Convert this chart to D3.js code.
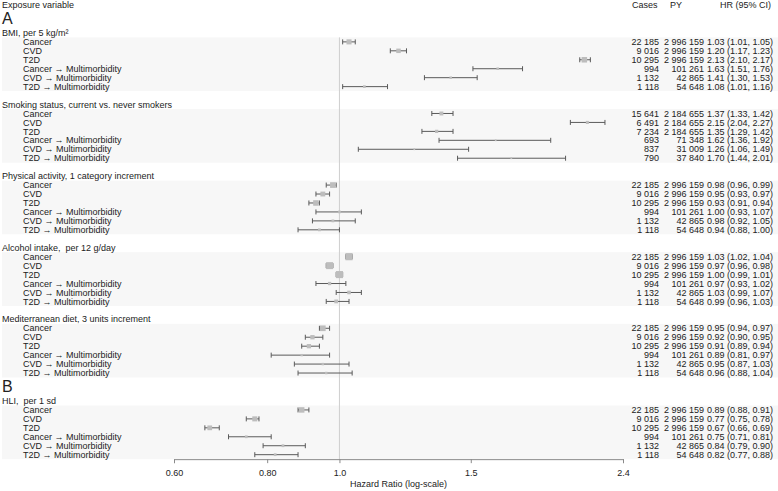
<!DOCTYPE html>
<html><head><meta charset="utf-8">
<script src="https://cdn.jsdelivr.net/npm/d3@7"></script>
<style>
body{margin:0;background:#fff}
text{font-family:"Liberation Sans",Arial,Helvetica,sans-serif;white-space:pre}
</style>
</head><body><svg id="c" width="778" height="491"></svg>
<script>
// ---------- data ----------
const outcomes = ["Cancer","CVD","T2D","Cancer \u2192 Multimorbidity","CVD \u2192 Multimorbidity","T2D \u2192 Multimorbidity"];
const exposures = ["BMI, per 5 kg/m\u00B2","Smoking status, current vs. never smokers","Physical activity, 1 category increment","Alcohol intake,  per 12 g/day","Mediterranean diet, 3 units increment","HLI,  per 1 sd"];
const panels = ["A","A","A","A","A","B"];
const cases = [
  ["22 185","9 016","10 295","994","1 132","1 118"],
  ["15 641","6 491","7 234","693","837","790"],
  ["22 185","9 016","10 295","994","1 132","1 118"],
  ["22 185","9 016","10 295","994","1 132","1 118"],
  ["22 185","9 016","10 295","994","1 132","1 118"],
  ["22 185","9 016","10 295","994","1 132","1 118"]
];
const personYears = [
  ["2 996 159","2 996 159","2 996 159","101 261","42 865","54 648"],
  ["2 184 655","2 184 655","2 184 655","71 348","31 009","37 840"],
  ["2 996 159","2 996 159","2 996 159","101 261","42 865","54 648"],
  ["2 996 159","2 996 159","2 996 159","101 261","42 865","54 648"],
  ["2 996 159","2 996 159","2 996 159","101 261","42 865","54 648"],
  ["2 996 159","2 996 159","2 996 159","101 261","42 865","54 648"]
];
const hr = [
  [1.03,1.20,2.13,1.63,1.41,1.08],
  [1.37,2.15,1.35,1.62,1.26,1.70],
  [0.98,0.95,0.93,1.00,0.98,0.94],
  [1.03,0.97,1.00,0.97,1.03,0.99],
  [0.95,0.92,0.91,0.89,0.95,0.96],
  [0.89,0.77,0.67,0.75,0.84,0.82]
];
const lower = [
  [1.01,1.17,2.10,1.51,1.30,1.01],
  [1.33,2.04,1.29,1.36,1.06,1.44],
  [0.96,0.93,0.91,0.93,0.92,0.88],
  [1.02,0.96,0.99,0.93,0.99,0.96],
  [0.94,0.90,0.89,0.81,0.87,0.88],
  [0.88,0.75,0.66,0.71,0.79,0.77]
];
const upper = [
  [1.05,1.23,2.17,1.76,1.53,1.16],
  [1.42,2.27,1.42,1.92,1.49,2.01],
  [0.99,0.97,0.94,1.07,1.05,1.00],
  [1.04,0.98,1.01,1.02,1.07,1.03],
  [0.97,0.95,0.94,0.97,1.03,1.04],
  [0.91,0.78,0.69,0.81,0.90,0.88]
];
const xTicks = [0.6,0.8,1.0,1.5,2.4];
const xTickLabels = ["0.60","0.80","1.0","1.5","2.4"];
const columnHeaders = ["Exposure variable","Cases","PY","HR (95% CI)"];
const axisTitle = "Hazard Ratio (log-scale)";

// ---------- layout ----------
const W = 778, H = 491, ROW = 8.95, LETTER_H = 19;
const textColor = "#222";
const fs = 9;
const svg = d3.select("#c");
const x = d3.scaleLog().domain([0.6, 2.4]).range([174, 623]);

let y = 0.5;
const headerY = y + ROW/2; y += ROW;
const letters = [], groupHeads = [], rows = [], bands = [];
let prevPanel = null;
exposures.forEach((ex, g) => {
  if (panels[g] !== prevPanel) {
    letters.push({t: panels[g], y: y + LETTER_H - 4.15});
    y += LETTER_H;
    prevPanel = panels[g];
  } else {
    y += ROW; // blank gap row
  }
  groupHeads.push({t: ex, y: y + ROW/2}); y += ROW;
  const b0 = y;
  outcomes.forEach((o, k) => {
    rows.push({g, k, label: o, y: y + ROW/2,
      cases: cases[g][k], py: personYears[g][k],
      hr: hr[g][k], lo: lower[g][k], hi: upper[g][k]});
    y += ROW;
  });
  bands.push({y0: b0, y1: y});
});
const tableBottom = y;
const firstRowTop = bands[0].y0;

// bands
svg.append("g").selectAll("rect").data(bands).join("rect")
  .attr("x", 2).attr("width", W - 2)
  .attr("y", d => d.y0).attr("height", d => d.y1 - d.y0)
  .attr("fill", "#f7f7f7");

// reference line
svg.append("line")
  .attr("x1", x(1)).attr("x2", x(1))
  .attr("y1", firstRowTop).attr("y2", tableBottom)
  .attr("stroke", "#cfcfcf").attr("stroke-width", 1);

// column headers
const colHead = svg.append("g").attr("font-size", fs).attr("fill", textColor);
colHead.append("text").attr("x", 2).attr("y", headerY).attr("dy", "0.35em").text(columnHeaders[0]);
colHead.append("text").attr("x", 632).attr("y", headerY).attr("dy", "0.35em").text(columnHeaders[1]);
colHead.append("text").attr("x", 670).attr("y", headerY).attr("dy", "0.35em").text(columnHeaders[2]);
colHead.append("text").attr("x", 720).attr("y", headerY).attr("dy", "0.35em").text(columnHeaders[3]);

// panel letters
svg.append("g").selectAll("text").data(letters).join("text")
  .attr("x", 2).attr("y", d => d.y).attr("font-size", 16).attr("fill", textColor)
  .text(d => d.t);

// group headers
svg.append("g").selectAll("text").data(groupHeads).join("text")
  .attr("x", 2).attr("y", d => d.y).attr("dy", "0.35em")
  .attr("font-size", fs).attr("fill", textColor).text(d => d.t);

// row labels and columns
const rg = svg.append("g").attr("font-size", fs).attr("fill", textColor);
rg.selectAll("text.lab").data(rows).join("text").attr("class","lab")
  .attr("x", 23).attr("y", d => d.y).attr("dy", "0.35em").text(d => d.label);
rg.selectAll("text.cases").data(rows).join("text").attr("class","cases")
  .attr("x", 659).attr("y", d => d.y).attr("dy", "0.35em").attr("text-anchor","end").text(d => d.cases);
rg.selectAll("text.py").data(rows).join("text").attr("class","py")
  .attr("x", 704).attr("y", d => d.y).attr("dy", "0.35em").attr("text-anchor","end").text(d => d.py);
rg.selectAll("text.hr").data(rows).join("text").attr("class","hr")
  .attr("x", 707).attr("y", d => d.y).attr("dy", "0.35em")
  .text(d => `${d.hr.toFixed(2)} (${d.lo.toFixed(2)}, ${d.hi.toFixed(2)})`);

// CI marks
const ci = svg.append("g");
const lineCol = "#5a5a5a";
const size = d3.scaleSqrt().domain([0, 1]).range([0, 1]);
ci.selectAll("line.ci").data(rows).join("line").attr("class","ci")
  .attr("x1", d => x(d.lo)).attr("x2", d => x(d.hi))
  .attr("y1", d => d.y).attr("y2", d => d.y)
  .attr("stroke", lineCol).attr("stroke-width", 1);
ci.selectAll("line.capL").data(rows).join("line").attr("class","capL")
  .attr("x1", d => x(d.lo)).attr("x2", d => x(d.lo))
  .attr("y1", d => d.y - 2.5).attr("y2", d => d.y + 2.5)
  .attr("stroke", lineCol).attr("stroke-width", 1);
ci.selectAll("line.capR").data(rows).join("line").attr("class","capR")
  .attr("x1", d => x(d.hi)).attr("x2", d => x(d.hi))
  .attr("y1", d => d.y - 2.5).attr("y2", d => d.y + 2.5)
  .attr("stroke", lineCol).attr("stroke-width", 1);
const side = d => Math.min(7.5, size(1 / (Math.log(d.hi) - Math.log(d.lo))));
ci.selectAll("rect.pt").data(rows).join("rect").attr("class","pt")
  .attr("x", d => x(d.hr) - side(d)/2).attr("y", d => d.y - side(d)/2)
  .attr("width", side).attr("height", side)
  .attr("fill", "#bdbdbd");

// axis
const axisY = tableBottom;
const ax = svg.append("g").attr("transform", `translate(0,${axisY})`)
  .call(d3.axisBottom(x).tickValues(xTicks).tickFormat((d,i) => xTickLabels[i]).tickSize(4).tickPadding(6));
ax.select(".domain").attr("stroke", "#8a8a8a");
ax.selectAll(".tick line").attr("stroke", "#8a8a8a");
ax.selectAll(".tick text").attr("font-size", fs).attr("fill", textColor)
  .attr("font-family", '"Liberation Sans",Arial,sans-serif');
svg.append("text").attr("x", (x.range()[0] + x.range()[1]) / 2).attr("y", axisY + 28)
  .attr("text-anchor", "middle").attr("font-size", fs).attr("fill", textColor).text(axisTitle);
</script>
</body></html>
